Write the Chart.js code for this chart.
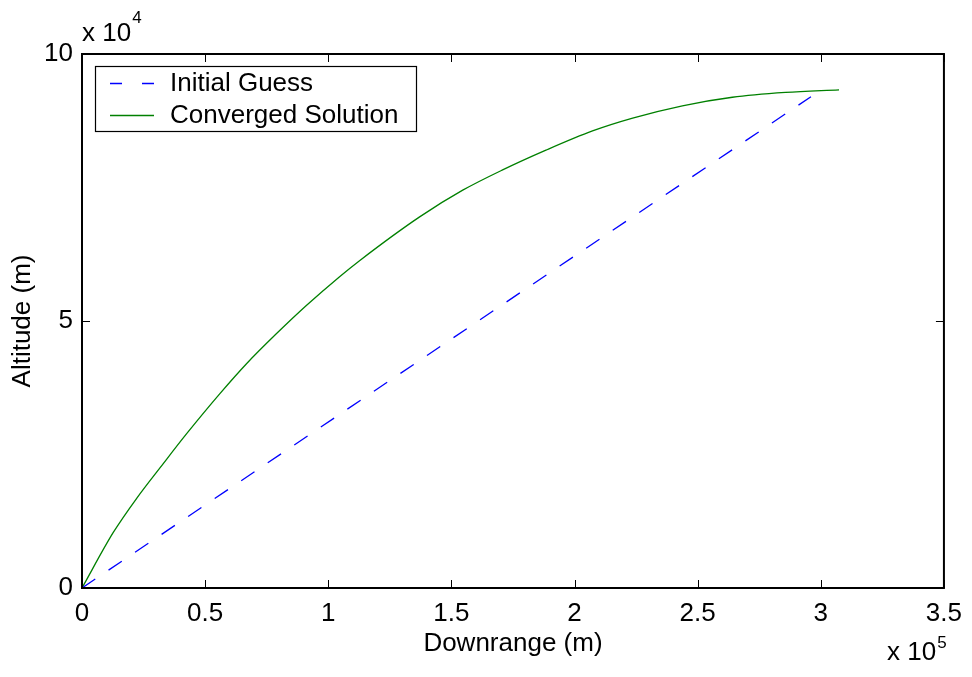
<!DOCTYPE html>
<html>
<head>
<meta charset="utf-8">
<script src="https://cdn.jsdelivr.net/npm/chart.js@4.4.1/dist/chart.umd.min.js"></script>
<style>
  html, body { margin: 0; padding: 0; background: #fff; overflow: hidden; }
</style>
</head>
<body>
<canvas id="c" width="972" height="677"></canvas>
<script>
// Initial guess: straight line (metres)
const guessRange = [0, 296000];
const guessAlt = [0, 92000];

// Converged solution (metres)
const solRange = [0, 12700, 22200, 33000, 42500, 56000, 66800, 78900, 91100, 104600, 112700,
                  137100, 154600, 170800, 188400, 207300, 223600, 243800, 264100, 285700, 307400];
const solAlt = [0, 10400, 16800, 23300, 28900, 36400, 42000, 47600, 52900, 58300, 61300,
                69500, 74500, 78300, 82000, 85600, 88000, 90300, 91900, 92800, 93300];

const xTicks = [0, 50000, 100000, 150000, 200000, 250000, 300000, 350000];
const yTicks = [0, 50000, 100000];

const FONT = '"Liberation Sans", Arial, Helvetica, sans-serif';
Chart.defaults.font.family = FONT;
Chart.defaults.color = '#000';

const toPoints = (xs, ys) => xs.map((v, i) => ({ x: v, y: ys[i] }));

// MATLAB style box, inward ticks, exponent labels and legend
const matlabFrame = {
    id: 'matlabFrame',
    afterDraw(chart) {
        const { ctx, chartArea: a, scales: { x, y } } = chart;
        ctx.save();
        ctx.strokeStyle = '#000';
        ctx.lineWidth = 1;
        ctx.beginPath();
        xTicks.forEach(v => {
            const px = Math.round(x.getPixelForValue(v)) + 0.5;
            ctx.moveTo(px, a.bottom); ctx.lineTo(px, a.bottom - 8);
            ctx.moveTo(px, a.top); ctx.lineTo(px, a.top + 8);
        });
        yTicks.forEach(v => {
            const py = Math.round(y.getPixelForValue(v)) + 0.5;
            ctx.moveTo(a.left, py); ctx.lineTo(a.left + 8, py);
            ctx.moveTo(a.right, py); ctx.lineTo(a.right - 8, py);
        });
        ctx.stroke();

        ctx.lineWidth = 2;
        ctx.strokeRect(a.left, a.top, a.right - a.left, a.bottom - a.top);

        // exponent labels
        ctx.fillStyle = '#000';
        ctx.textAlign = 'left';
        ctx.textBaseline = 'alphabetic';
        ctx.font = '26px ' + FONT;
        ctx.fillText('x 10', a.left, 41);
        let w = ctx.measureText('x 10').width;
        ctx.font = '17px ' + FONT;
        ctx.fillText('4', a.left + w + 1, 23);

        ctx.font = '26px ' + FONT;
        ctx.fillText('x 10', 887, 660);
        w = ctx.measureText('x 10').width;
        ctx.font = '17px ' + FONT;
        ctx.fillText('5', 887 + w + 1, 648);

        // legend
        ctx.fillStyle = '#fff';
        ctx.fillRect(95, 66, 321, 66);
        ctx.lineWidth = 1.2;
        ctx.strokeStyle = '#000';
        ctx.strokeRect(95.5, 66.5, 321, 65);
        const rows = [83, 115];
        chart.data.datasets.forEach((ds, i) => {
            ctx.strokeStyle = ds.borderColor;
            ctx.lineWidth = ds.borderWidth;
            ctx.setLineDash(ds.borderDash && ds.borderDash.length ? [12, 20] : []);
            ctx.beginPath();
            ctx.moveTo(110, rows[i] + 0.5);
            ctx.lineTo(154, rows[i] + 0.5);
            ctx.stroke();
            ctx.setLineDash([]);
            ctx.fillStyle = '#000';
            ctx.font = '26px ' + FONT;
            ctx.textBaseline = 'middle';
            ctx.fillText(ds.label, 170, rows[i] + 1);
        });
        ctx.restore();
    }
};

new Chart(document.getElementById('c'), {
    type: 'scatter',
    data: {
        datasets: [
            {
                label: 'Initial Guess',
                data: toPoints(guessRange, guessAlt),
                showLine: true,
                borderColor: '#0000ff',
                borderWidth: 1.3,
                borderDash: [16, 16],
                pointRadius: 0,
                tension: 0,
            },
            {
                label: 'Converged Solution',
                data: toPoints(solRange, solAlt),
                showLine: true,
                borderColor: '#008000',
                borderWidth: 1.3,
                pointRadius: 0,
                cubicInterpolationMode: 'monotone',
            },
        ]
    },
    options: {
        responsive: false,
        devicePixelRatio: 1,
        animation: false,
        layout: { padding: { top: 54, right: 27, left: 0, bottom: 0 } },
        plugins: {
            legend: { display: false },
            tooltip: { enabled: false },
        },
        scales: {
            x: {
                type: 'linear',
                min: 0,
                max: 350000,
                afterBuildTicks: s => { s.ticks = xTicks.map(v => ({ value: v })); },
                afterFit: s => { s.height = 89; },
                grid: { display: false, drawTicks: false },
                border: { display: false },
                ticks: {
                    callback: v => String(v / 1e5),
                    font: { size: 26, lineHeight: 1.2 },
                    padding: 10,
                    maxRotation: 0,
                    autoSkip: false,
                },
                title: {
                    display: true,
                    text: 'Downrange (m)',
                    font: { size: 26, lineHeight: 1.2 },
                    padding: { top: 0, bottom: 18 },
                },
            },
            y: {
                type: 'linear',
                min: 0,
                max: 100000,
                afterBuildTicks: s => { s.ticks = yTicks.map(v => ({ value: v })); },
                afterFit: s => { s.width = 82; },
                grid: { display: false, drawTicks: false },
                border: { display: false },
                ticks: {
                    callback: v => String(v / 1e4),
                    font: { size: 26, lineHeight: 1.2 },
                    padding: 9,
                    autoSkip: false,
                },
                title: {
                    display: true,
                    text: 'Altitude (m)',
                    font: { size: 26, lineHeight: 1.2 },
                    padding: { top: 7, bottom: 0 },
                },
            },
        },
    },
    plugins: [matlabFrame],
});
</script>
</body>
</html>
